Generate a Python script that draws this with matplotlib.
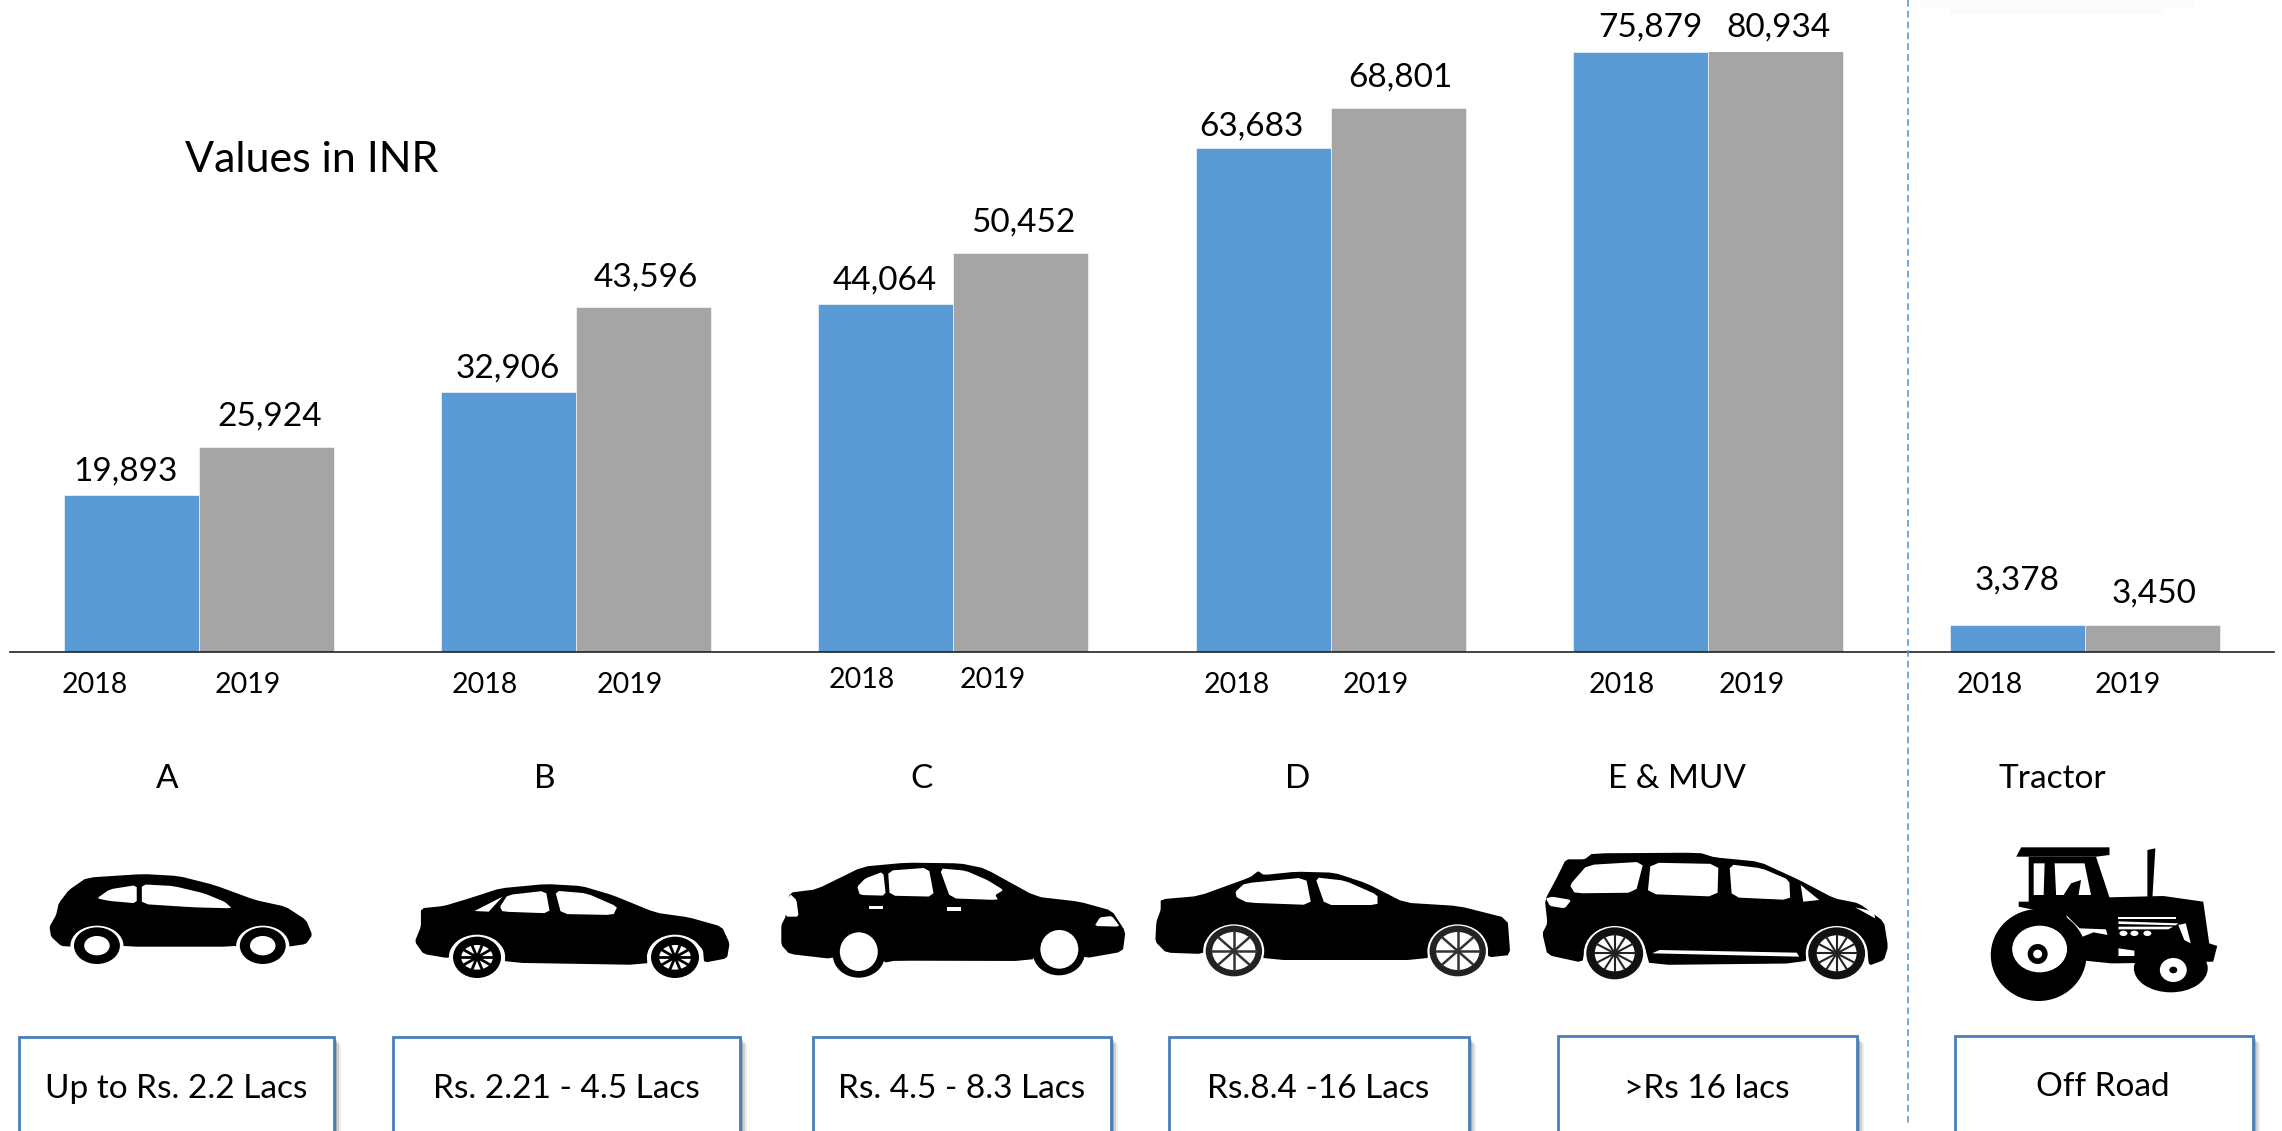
"""Bar chart of values by car segment, with segment icons and price boxes."""
import matplotlib
matplotlib.use("Agg")
import matplotlib.pyplot as plt
import numpy as np
from matplotlib.patches import Ellipse, Polygon, Rectangle

plt.rcParams["font.family"] = ["Lato", "DejaVu Sans"]

segments = ["A", "B", "C", "D", "E & MUV", "Tractor"]
price_bands = ["Up to Rs. 2.2 Lacs", "Rs. 2.21 - 4.5 Lacs", "Rs. 4.5 - 8.3 Lacs",
               "Rs.8.4 -16 Lacs", ">Rs 16 lacs", "Off Road"]
values_2018 = [19893, 32906, 44064, 63683, 75879, 3378]
values_2019 = [25924, 43596, 50452, 68801, 80934, 3450]
years = ["2018", "2019"]

W, H = 2282, 1131
BLUE = "#5b9bd5"
GREY = "#a5a5a5"
K = 2282 / 1568
TY = 2 * K  # text sits a touch lower than its centre anchor suggests

fig = plt.figure(figsize=(W / 100, H / 100), dpi=100, facecolor="white")

# the chart itself: 6 equal slots, value axis stops at the 2018 E & MUV value
ax = fig.add_axes([10 / W, 1 - 652 / H, 2264 / W, 600 / H])
x = np.arange(len(segments))
bar_w = 0.358
ax.bar(x - bar_w / 2, values_2018, bar_w, color=BLUE, edgecolor="white", linewidth=0.4)
ax.bar(x + bar_w / 2, values_2019, bar_w, color=GREY, edgecolor="white", linewidth=0.4)
ax.set_xlim(-0.5, 5.5)
ax.set_ylim(0, min(max(values_2018), max(values_2019)))
ax.set_xticks([])
ax.set_yticks([])
for side in ["top", "left", "right"]:
    ax.spines[side].set_visible(False)
ax.spines["bottom"].set_linewidth(1.2)
ax.spines["bottom"].set_color("#222222")

# overlay in pixel coordinates for the annotations and icons
ov = fig.add_axes([0, 0, 1, 1], facecolor="none")
ov.set_xlim(0, W)
ov.set_ylim(H, 0)
ov.axis("off")


def fmt(v):
    return f"{v:,}"


label_pos_2018 = [(86, 322), (349, 251), (608, 191), (860, 85), (1134, 17), (1386, 397)]
label_pos_2019 = [(185, 284), (444, 189), (703, 151), (962, 51), (1222, 17), (1480, 406)]
year_pos = [(65, 170, 469), (333, 433, 469), (592, 682, 465),
            (850, 945, 469), (1114, 1204, 469), (1367, 1462, 469)]
seg_x = [115, 374, 633, 892, 1152, 1410]
box_text_pos = [(121, 746), (389, 746), (661, 746), (906, 746), (1173, 746), (1445, 745)]
boxes = [(19, 334, 1037), (393, 740, 1037), (813, 1111, 1037),
         (1169, 1469, 1037), (1558, 1857, 1036), (1955, 2253, 1036)]

for i in range(len(segments)):
    for vals, pos in ((values_2018, label_pos_2018), (values_2019, label_pos_2019)):
        ov.text(pos[i][0] * K, pos[i][1] * K + TY, fmt(vals[i]), ha="center", va="center",
                fontsize=24, color="black")
    x1, x2, yy = year_pos[i]
    ov.text(x1 * K, yy * K + TY, years[0], ha="center", va="center", fontsize=20.5, color="black")
    ov.text(x2 * K, yy * K + TY, years[1], ha="center", va="center", fontsize=20.5, color="black")
    ov.text(seg_x[i] * K, 533 * K + TY, segments[i], ha="center", va="center", fontsize=24, color="black")

    # price box with soft shadow, runs off the bottom edge
    left, right, top = boxes[i]
    for off, alpha in ((7, 0.07), (5, 0.12), (3, 0.18), (1.5, 0.25)):
        ov.add_patch(Rectangle((left + off, top + off), right - left, H, fc="black",
                               ec="none", alpha=alpha, zorder=2))
    ov.add_patch(Rectangle((left, top), right - left, H, fc="white", ec="#4a7ebb",
                           lw=2.0, zorder=3))
    ov.text(box_text_pos[i][0] * K, box_text_pos[i][1] * K + TY, price_bands[i], ha="center",
            va="center", fontsize=24, color="black", zorder=4)

ov.text(127 * K, 108 * K + TY, "Values in INR", ha="left", va="center", fontsize=31, color="black")

# divider and the faint smudge top right
ov.plot([1908, 1908], [0, 1126], color=BLUE, lw=1.2, ls=(0, (4, 2.5)), zorder=1)
ov.add_patch(Rectangle((1920, 0), 273, 8, fc="#fbfbfb", ec="none", zorder=0))
ov.add_patch(Rectangle((1950, 0), 213, 14, fc="#fbfbfb", ec="none", zorder=0))


def smooth(pts, rounds=2):
    """Chaikin corner cutting, keeps the traced outlines from looking faceted."""
    p = np.asarray(pts, dtype=float)
    for _ in range(rounds):
        q = np.roll(p, -1, axis=0)
        p = np.column_stack([0.88 * p + 0.12 * q, 0.12 * p + 0.88 * q]).reshape(-1, 2)
    return p


class Icon:

    def __init__(self, ox, oy, sx, sy=3.0):
        self.ox, self.oy, self.sx, self.sy = ox, oy, sx, sy

    def poly(self, pts, color="black", rounds=2, z=5):
        p = smooth(pts, rounds) if rounds else np.asarray(pts, dtype=float)
        p = p / [self.sx, self.sy] + [self.ox, self.oy]
        ov.add_patch(Polygon(p, closed=True, fc=color, ec="none", zorder=z))

    def ell(self, cx, cy, rx, ry, color="black", z=6):
        ov.add_patch(Ellipse((self.ox + cx / self.sx, self.oy + cy / self.sy),
                             2 * rx / self.sx, 2 * ry / self.sy, fc=color, ec="none", zorder=z))

    def spoked(self, cx, cy, rx, ry, n, hub=0.18, color="black", lw=1.5):
        self.ell(cx, cy, rx, ry, "white", z=7)
        for a in np.linspace(0, np.pi, n, endpoint=False):
            dx, dy = np.cos(a) * rx, np.sin(a) * ry
            ov.plot([self.ox + (cx - dx) / self.sx, self.ox + (cx + dx) / self.sx],
                    [self.oy + (cy - dy) / self.sy, self.oy + (cy + dy) / self.sy],
                    color=color, lw=lw, zorder=8)
        self.ell(cx, cy, rx * hub, ry * hub, color, z=9)


# car A
a = Icon(0, 800, 1.96)
a.poly([(170, 233), (280, 222), (350, 228), (420, 255), (500, 300), (560, 320), (600, 360),
        (612, 405), (600, 432), (565, 440), (565, 425), (550, 395), (515, 380), (485, 392),
        (468, 420), (465, 440), (240, 440), (235, 420), (215, 390), (190, 380), (160, 390),
        (145, 415), (140, 440), (120, 438), (100, 410), (97, 380), (110, 345), (115, 310),
        (135, 270)], rounds=1)
a.poly([(190, 295), (215, 268), (268, 255), (268, 310), (215, 303)], "white", 1, 6)
a.poly([(278, 253), (340, 258), (400, 280), (440, 305), (455, 325), (380, 322), (278, 312)], "white", 1, 6)
for cx in (190, 515):
    a.ell(cx, 437, 52, 60, "white")
    a.ell(cx, 437, 45, 55, "black", z=7)
    a.ell(cx, 437, 25, 29, "white", z=8)

# car B
b = Icon(0, 800, 1.96)
b.poly([(825, 325), (870, 318), (920, 295), (980, 265), (1070, 252), (1140, 258), (1200, 285),
        (1285, 338), (1350, 352), (1415, 380), (1430, 430), (1425, 475), (1380, 488), (1378, 450),
        (1360, 420), (1325, 405), (1290, 418), (1272, 450), (1268, 495), (990, 488), (988, 450),
        (970, 418), (935, 405), (900, 418), (882, 450), (880, 475), (830, 462), (813, 425),
        (825, 380)], rounds=1)
b.poly([(930, 333), (985, 290), (958, 335)], "white", 0, 6)
b.poly([(980, 320), (995, 285), (1070, 272), (1078, 340), (985, 335)], "white", 1, 6)
b.poly([(1088, 272), (1150, 280), (1210, 320), (1202, 345), (1100, 342)], "white", 1, 6)
for cx in (935, 1323):
    b.ell(cx, 472, 55, 68, "white")
    b.ell(cx, 472, 47, 62, "black", z=7)
    b.spoked(cx, 472, 31, 37, 5, hub=0.3, lw=2.0)

# car C
c = Icon(700, 800, 1.845)
c.poly([(165, 278), (215, 268), (300, 200), (380, 188), (480, 190), (525, 205), (620, 290),
        (700, 305), (760, 332), (785, 395), (780, 455), (710, 475), (698, 440), (685, 405),
        (660, 390), (640, 400), (628, 440), (612, 483), (360, 482), (340, 488), (328, 440),
        (315, 405), (293, 397), (270, 405), (258, 440), (245, 477), (165, 462), (150, 435),
        (150, 375), (158, 350)], rounds=1)
c.poly([(290, 260), (305, 235), (338, 215), (343, 287), (295, 285)], "white", 1, 6)
c.poly([(347, 212), (422, 203), (432, 290), (350, 287)], "white", 1, 6)
c.poly([(442, 205), (490, 212), (530, 240), (560, 270), (545, 285), (550, 300), (462, 295)], "white", 1, 6)
c.poly([(158, 350), (160, 300), (167, 283), (178, 300), (182, 350)], "white", 1, 6)
c.poly([(728, 378), (738, 352), (760, 348), (775, 380)], "white", 1, 6)
c.poly([(312, 317), (338, 317), (338, 326), (312, 326)], "white", 0, 6)
c.poly([(456, 322), (482, 322), (482, 332), (456, 332)], "white", 0, 6)
c.ell(293, 465, 48, 68)
c.ell(293, 455, 35, 58, "white", z=7)
c.ell(662, 458, 48, 68)
c.ell(663, 448, 35, 58, "white", z=7)

# car D
d = Icon(700, 800, 1.845)
d.poly([(850, 298), (920, 288), (1015, 232), (1030, 213), (1040, 225), (1100, 215), (1170, 218),
        (1230, 250), (1300, 308), (1400, 318), (1490, 355), (1495, 465), (1455, 472), (1450, 440),
        (1430, 395), (1398, 375), (1365, 390), (1345, 430), (1342, 480), (1040, 480), (1035, 430),
        (1015, 392), (985, 375), (950, 390), (930, 430), (928, 462), (860, 458), (840, 425),
        (842, 365), (850, 330)], rounds=1)
d.poly([(988, 275), (1005, 250), (1118, 232), (1128, 315), (1010, 308), (990, 292)], "white", 1, 6)
d.poly([(1135, 232), (1190, 242), (1250, 285), (1250, 315), (1153, 315)], "white", 1, 6)
for cx in (985, 1398):
    d.ell(cx, 453, 56, 80, "white")
    d.ell(cx, 453, 52, 76, "#222222", z=7)
    d.spoked(cx, 453, 40, 57, 4, hub=0.14, color="#333333", lw=1.8)

# car E / MUV
e = Icon(1500, 800, 2.005)
e.poly([(132, 178), (170, 178), (185, 160), (400, 158), (430, 172), (520, 185), (600, 240),
        (670, 295), (720, 310), (770, 365), (778, 440), (770, 480), (740, 497), (735, 440),
        (715, 395), (675, 378), (640, 390), (620, 430), (612, 490), (300, 495), (290, 440),
        (270, 395), (230, 380), (195, 390), (172, 435), (165, 488), (95, 465), (85, 400),
        (95, 370), (90, 300), (115, 230)], rounds=1)
e.poly([(140, 255), (175, 195), (288, 185), (272, 278), (150, 280)], "white", 1, 6)
e.poly([(302, 188), (438, 192), (436, 290), (296, 282)], "white", 1, 6)
e.poly([(460, 193), (525, 205), (580, 240), (582, 300), (465, 292)], "white", 1, 6)
e.poly([(603, 255), (640, 300), (608, 305)], "white", 0, 6)
e.poly([(92, 295), (105, 290), (143, 300), (130, 325), (100, 318)], "white", 1, 6)
e.poly([(712, 322), (750, 335), (752, 355)], "white", 0, 6)
e.poly([(305, 460), (320, 450), (595, 458), (600, 470), (450, 465)], "white", 0, 6)
for cx in (230, 675):
    e.ell(cx, 460, 62, 82, "white")
    e.ell(cx, 460, 57, 78, "#111111", z=7)
    e.spoked(cx, 460, 40, 54, 6, hub=0.12, color="#222222", lw=1.5)

# tractor
t = Icon(1500, 800, 2.005)
t.poly([(1035, 170), (1045, 142), (1222, 142), (1222, 165), (1195, 170)], rounds=0)
t.poly([(1222, 292), (1330, 288), (1410, 305), (1422, 430), (1438, 438), (1430, 485), (1240, 490),
        (1225, 490), (1160, 480), (1120, 345), (1040, 320), (1040, 305), (1060, 305), (1060, 170),
        (1195, 170)], rounds=0)
t.poly([(1070, 190), (1092, 190), (1090, 285), (1070, 285)], "white", 0, 6)
t.poly([(1112, 190), (1172, 190), (1185, 285), (1115, 285)], "white", 0, 6)
t.poly([(1130, 285), (1145, 250), (1165, 240), (1160, 285)], "black", 0, 7)
t.poly([(1298, 150), (1314, 145), (1308, 295), (1298, 295)], rounds=0)
t.poly([(1240, 350), (1355, 350), (1355, 356), (1240, 356)], "white", 0, 6)
t.poly([(1240, 364), (1360, 370), (1355, 376), (1240, 372)], "white", 0, 6)
t.poly([(1240, 380), (1350, 380), (1340, 388), (1240, 388)], "white", 0, 6)
t.poly([(1135, 345), (1162, 385), (1215, 388), (1218, 405), (1190, 397), (1165, 412), (1145, 385)], "white", 0, 6)
for cx in (1250, 1272, 1298):
    t.ell(cx, 400, 8, 8, "white")
t.poly([(1360, 375), (1375, 370), (1385, 430), (1372, 420)], "white", 0, 6)
t.poly([(1240, 445), (1272, 452), (1272, 468), (1240, 468)], "white", 0, 6)
t.ell(1080, 465, 96, 138, z=7)
t.ell(1082, 447, 55, 70, "white", z=8)
t.ell(1078, 462, 20, 30, "black", z=9)
t.ell(1078, 462, 9, 13, "white", z=10)
t.ell(1345, 505, 74, 72, z=7)
t.ell(1350, 510, 27, 36, "white", z=8)
t.ell(1350, 510, 8, 10, "black", z=9)

fig.savefig("out.png", dpi=100, facecolor="white")
